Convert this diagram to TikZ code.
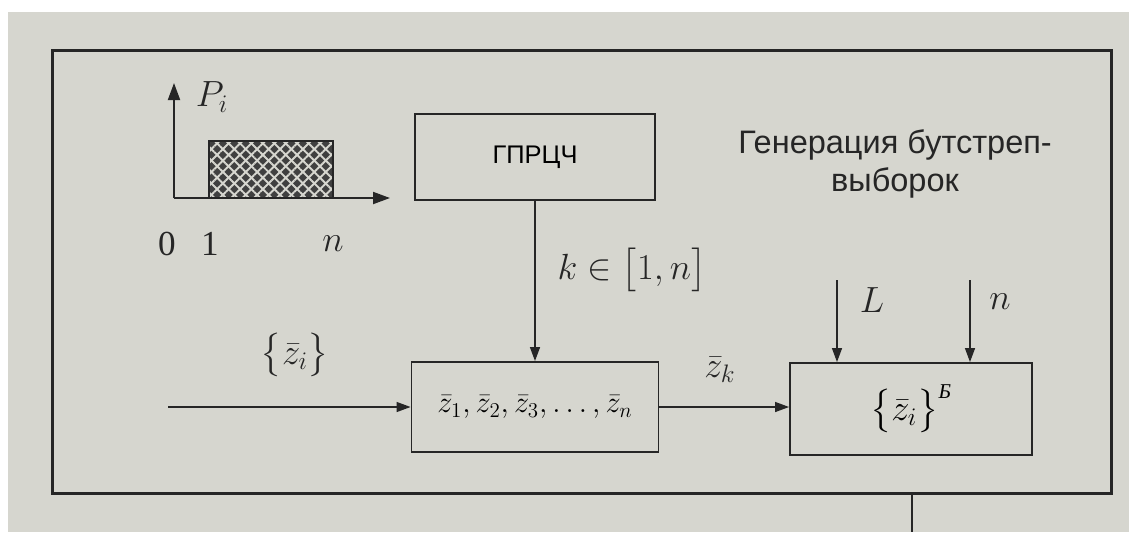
\documentclass[tikz,border=0pt]{standalone}
\usepackage{amsmath}
\usepackage{fontspec}
\setmainfont{Liberation Serif}
\newfontfamily\ruSans{Liberation Sans}
\usetikzlibrary{arrows.meta,patterns.meta}
\definecolor{inkc}{HTML}{262626}
\definecolor{paper}{HTML}{D6D6CF}
\begin{document}
\begin{tikzpicture}[x=0.02cm,y=-0.02cm,
  block/.style={draw=inkc, line width=1.1pt, inner sep=0pt},
  arr/.style={draw=inkc, line width=0.8pt, -{Triangle[length=0.28cm,width=0.2cm]}},
  axisarr/.style={draw=inkc, line width=1.1pt, -{Triangle[length=0.34cm,width=0.24cm]}},
  lbl/.style={text=inkc, inner sep=0pt},
  big/.style={lbl, font=\fontsize{20}{24}\selectfont},
  mid/.style={lbl, font=\fontsize{20}{24}\selectfont},
  ru/.style={lbl, font=\ruSans\fontsize{18.5}{22}\selectfont, align=center}]
\useasboundingbox (0,0) rectangle (1129,532);
\fill[white] (0,0) rectangle (1129,532);
\fill[paper] (8,12) rectangle (1129,532);
% outer frame
\node[draw=inkc, line width=1.7pt, minimum width=21.2cm, minimum height=8.88cm, inner sep=0pt] (frame) at (582,272) {};
% distribution graph
\coordinate (o) at (174,198);
\coordinate (ytop) at (174,83);
\coordinate (xend) at (390,198);
\fill[black!75] (209,141) rectangle (333,198);
\fill[pattern={Lines[angle=45,distance=4.6pt,line width=1.1pt]}, pattern color=paper] (209,141) rectangle (333,198);
\fill[pattern={Lines[angle=-45,distance=4.6pt,line width=1.1pt]}, pattern color=paper] (209,141) rectangle (333,198);
\draw[inkc, line width=1.1pt] (209,141) rectangle (333,198);
\draw[axisarr] (o) -- (ytop);
\draw[axisarr] (o) -- (xend);
\node[big] (pi) at (212,97) {$P_i$};
\node[big] (t0) at (167,244) {0};
\node[big] (t1) at (210,244) {1};
\node[big] (tn) at (333,244) {$n$};
% blocks
\node[block, minimum width=4.8cm, minimum height=1.72cm] (gen) at (535,157) {\ruSans\fontsize{14.5}{16}\selectfont ГПРЦЧ};
\node[block, minimum width=4.94cm, minimum height=1.8cm] (seq) at (535,407) {\fontsize{17}{20}\selectfont$\bar z_1,\bar z_2,\bar z_3,\dots,\bar z_n$};
\node[block, minimum width=4.84cm, minimum height=1.84cm] (boot) at (911,409) {\fontsize{20}{24}\selectfont$\bigl\{\bar z_i\bigr\}^{\text{\itshape\fontsize{12}{14}\selectfont Б}}$};
\node[ru] (title) at (895,164) {Генерация бутстреп-\\выборок};
% connectors
\coordinate (in) at (168,407);
\coordinate (Lt) at (837,280);
\coordinate (nt) at (970,280);
\coordinate (out) at (912,532);
\draw[arr] (gen.south) -- (seq.north);
\draw[arr] (in) -- (seq.west);
\draw[arr] (seq.east) -- (seq.east -| boot.west);
\draw[arr] (Lt) -- (Lt |- boot.north);
\draw[arr] (nt) -- (nt |- boot.north);
\draw[inkc, line width=0.8pt] (out |- frame.south) -- (out);
% labels
\node[big] (klbl) at (632,270) {$k\in\bigl[1,n\bigr]$};
\node[big] (zin) at (295,355) {$\bigl\{\bar z_i\bigr\}$};
\node[mid] (zk) at (720,370) {$\bar z_k$};
\node[big] (Llbl) at (872,300) {$L$};
\node[big] (nlbl) at (1000,302) {$n$};
\end{tikzpicture}
\end{document}
